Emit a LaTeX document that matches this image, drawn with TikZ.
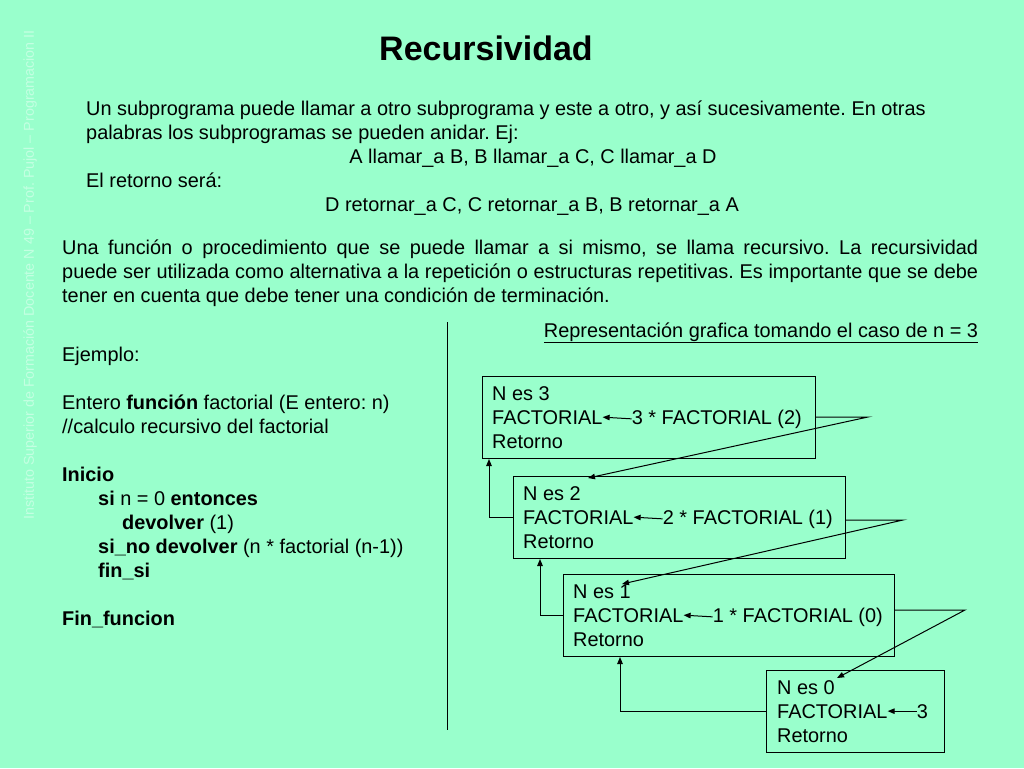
\documentclass[tikz,border=0pt]{standalone}
\usepackage{fontspec}
\setmainfont{Liberation Sans}
\usetikzlibrary{positioning,arrows.meta,calc}
\definecolor{fondo}{RGB}{153,255,204}
\definecolor{tenue}{RGB}{196,255,226}
\frenchspacing
\tikzset{
  caja/.style={
    rectangle,
    draw=black,line width=1pt,
    anchor=north west,
    inner sep=0pt},
  texto/.style={
    anchor=base west,
    inner sep=0pt,
    font=\fontsize{19.9}{24}\selectfont},
  centrado/.style={
    texto,
    anchor=base},
  flecha/.style={draw,line width=1pt,-{Triangle[length=7pt,width=5.5pt]}},
  linea/.style={draw,line width=1pt},
}

\begin{document}
\begin{tikzpicture}[x=1pt,y=-1pt]
  \fill[fondo] (0,0) rectangle (1024,768);
  \useasboundingbox (0,0) rectangle (1024,768);
  % texto lateral
  \node[rotate=90,text=tenue,font=\fontsize{14.3}{16}\selectfont](pie) at (30,275)
    {Instituto Superior de Formación Docente N 49 – Prof. Pujol – Programacion II};
  % titulo
  \node[anchor=base,font=\fontsize{34}{38}\selectfont\bfseries](titulo) at (486,60) {Recursividad};
  % introduccion
  \node[texto](intro1) at (86,115) {Un subprograma puede llamar a otro subprograma y este a otro, y así sucesivamente. En otras};
  \node[texto](intro2) at (86,139) {palabras los subprogramas se pueden anidar. Ej:};
  \node[centrado](llamadas) at (533,163) {A llamar\_a B, B llamar\_a C, C llamar\_a D};
  \node[texto](intro3) at (86,187) {El retorno será:};
  \node[centrado](retornos) at (532,211) {D retornar\_a C, C retornar\_a B, B retornar\_a A};
  \node[texto,anchor=north west,text width=916pt,align=justify](definicion) at (62,240)
    {Una función o procedimiento que se puede llamar a si mismo, se llama recursivo. La recursividad\linebreak
     puede ser utilizada como alternativa a la repetición o estructuras repetitivas. Es importante que se debe\linebreak
     tener en cuenta que debe tener una condición de terminación.};
  % ejemplo
  \node[texto,anchor=north west,align=left](codigo) at (62,347)
    {Ejemplo:\\[24pt]
     Entero \textbf{función} factorial (E entero: n)\\
     //calculo recursivo del factorial\\[24pt]
     \textbf{Inicio}\\
     \hspace*{36pt}\textbf{si} n = 0 \textbf{entonces}\\
     \hspace*{60pt}\textbf{devolver} (1)\\
     \hspace*{36pt}\textbf{si\_no devolver} (n * factorial (n-1))\\
     \hspace*{36pt}\textbf{fin\_si}\\[24pt]
     \textbf{Fin\_funcion}};
  \coordinate (sep_arriba) at (447,322);
  \coordinate (sep_abajo) at (447,730);
  \draw[linea] (sep_arriba) -- (sep_abajo);
  % representacion
  \node[centrado](representacion) at (761,337) {\underline{Representación grafica tomando el caso de n = 3}};
  \node[caja,minimum width=333pt,minimum height=82pt](caja3) at (482,376) {};
  \node[texto](ne3) at ([xshift=10pt,yshift=-24pt]caja3.north west) {N es 3};
  \node[texto](fac3) at ([yshift=-24pt]ne3.base west) {FACTORIAL};
  \node[texto](val3) at ([xshift=29pt]fac3.base east) {3 * FACTORIAL (2)};
  \node[texto](ret3) at ([yshift=-24pt]fac3.base west) {Retorno};
  \draw[flecha] (val3.west) -- (fac3.east);
  \node[caja,minimum width=332pt,minimum height=82pt](caja2) at (513,476) {};
  \node[texto](ne2) at ([xshift=10pt,yshift=-24pt]caja2.north west) {N es 2};
  \node[texto](fac2) at ([yshift=-24pt]ne2.base west) {FACTORIAL};
  \node[texto](val2) at ([xshift=29pt]fac2.base east) {2 * FACTORIAL (1)};
  \node[texto](ret2) at ([yshift=-24pt]fac2.base west) {Retorno};
  \draw[flecha] (val2.west) -- (fac2.east);
  \node[caja,minimum width=331pt,minimum height=82pt](caja1) at (563,574) {};
  \node[texto](ne1) at ([xshift=10pt,yshift=-24pt]caja1.north west) {N es 1};
  \node[texto](fac1) at ([yshift=-24pt]ne1.base west) {FACTORIAL};
  \node[texto](val1) at ([xshift=29pt]fac1.base east) {1 * FACTORIAL (0)};
  \node[texto](ret1) at ([yshift=-24pt]fac1.base west) {Retorno};
  \draw[flecha] (val1.west) -- (fac1.east);
  \node[caja,minimum width=178pt,minimum height=82pt](caja0) at (766,670) {};
  \node[texto](ne0) at ([xshift=11pt,yshift=-24pt]caja0.north west) {N es 0};
  \node[texto](fac0) at ([yshift=-24pt]ne0.base west) {FACTORIAL};
  \node[texto](val0) at ([xshift=29pt]fac0.base east) {3};
  \node[texto](ret0) at ([yshift=-24pt]fac0.base west) {Retorno};
  \draw[flecha] (val0.west) -- (fac0.east);
  % llamadas
  \coordinate (giro3) at (868,417);
  \coordinate (llega2) at (588,478);
  \draw[flecha] (caja3.east |- giro3) -- (giro3) -- (llega2);
  \coordinate (giro2) at (903,520);
  \coordinate (llega1) at (622,584);
  \draw[flecha] (caja2.east |- giro2) -- (giro2) -- (llega1);
  \coordinate (giro1) at (965,610);
  \coordinate (llega0) at (837,678);
  \draw[flecha] (caja1.east |- giro1) -- (giro1) -- (llega0);
  % retornos
  \draw[flecha] (caja2.west) -| ([xshift=7pt]caja3.south west);
  \draw[flecha] (caja1.west) -| ([xshift=27pt]caja2.south west);
  \draw[flecha] (caja0.west) -| ([xshift=57pt]caja1.south west);
\end{tikzpicture}
\end{document}
